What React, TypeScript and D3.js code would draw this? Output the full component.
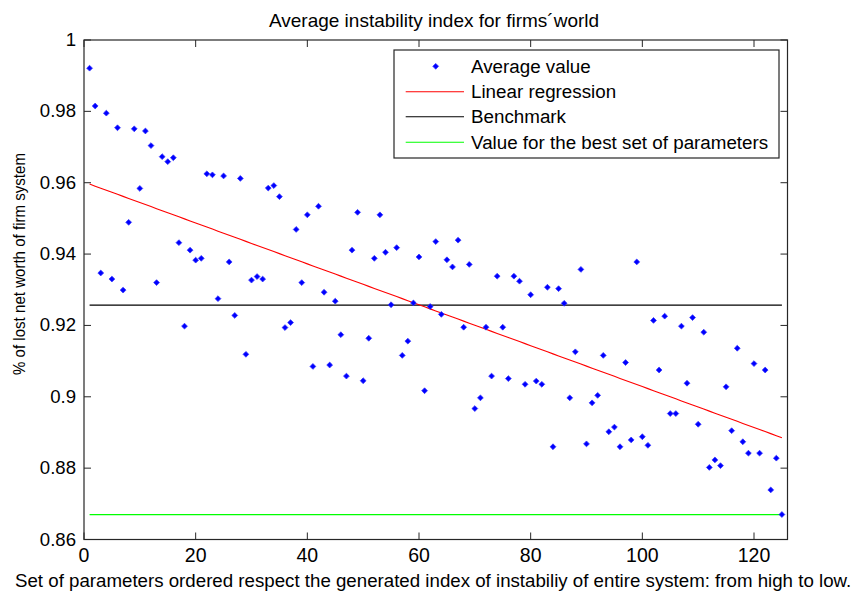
import React from 'react';
import * as d3 from 'd3';

// Average instability index per parameter set (ordered from high to low index)
const avgValues: number[] = [
  0.9921, 0.9815, 0.9347, 0.9795, 0.933, 0.9754, 0.9299, 0.9489, 0.9751, 0.9584,
  0.9745, 0.9704, 0.932, 0.9673, 0.9659, 0.967, 0.9432, 0.9198, 0.9411, 0.9383,
  0.9388, 0.9625, 0.9622, 0.9275, 0.9619, 0.9378, 0.9228, 0.9612, 0.9119, 0.9327,
  0.9337, 0.933, 0.9585, 0.9592, 0.9561, 0.9194, 0.9208, 0.9469, 0.932, 0.951,
  0.9085, 0.9534, 0.9293, 0.9089, 0.9268, 0.9174, 0.9058, 0.9411, 0.9517, 0.9045,
  0.9164, 0.9388, 0.951, 0.9405, 0.9258, 0.9418, 0.9116, 0.9156, 0.9263, 0.9392,
  0.9017, 0.9253, 0.9435, 0.9231, 0.9384, 0.9364, 0.9439, 0.9195, 0.9371, 0.8967,
  0.8997, 0.9195, 0.9058, 0.9338, 0.9195, 0.9051, 0.9338, 0.9324, 0.9035, 0.9286,
  0.9044, 0.9035, 0.9307, 0.886, 0.9303, 0.9262, 0.8997, 0.9126, 0.9357, 0.8868,
  0.8983, 0.9004, 0.9116, 0.8902, 0.8915, 0.886, 0.9096, 0.8879, 0.9378, 0.8888,
  0.8864, 0.9214, 0.9075, 0.9226, 0.8953, 0.8953, 0.9198, 0.9038, 0.9222, 0.8923,
  0.9181, 0.8802, 0.8823, 0.8807, 0.9028, 0.8905, 0.9136, 0.8874, 0.8842, 0.9093,
  0.8842, 0.9075, 0.8739, 0.8828, 0.867,
];
const benchmarkValue = 0.9257;
const bestSetValue = 0.867;

const xTicks = [0, 20, 40, 60, 80, 100, 120];
const yTicks = [0.86, 0.88, 0.9, 0.92, 0.94, 0.96, 0.98, 1];
const yTickLabels = ['0.86', '0.88', '0.9', '0.92', '0.94', '0.96', '0.98', '1'];
const legendLabels = [
  'Average value',
  'Linear regression',
  'Benchmark',
  'Value for the best set of parameters',
];

const titleText = 'Average instability index for firms\u00B4world';
const xLabelText =
  'Set of parameters ordered respect the generated index of instabiliy of entire system: from high to low.';
const yLabelText = '% of lost net worth of firm system';

const FONT = 'Arial, "Liberation Sans", Helvetica, sans-serif';

export default function App() {
  const W = 854;
  const H = 594;
  const left = 84;
  const right = 787.5;
  const top = 40;
  const bottom = 539.5;

  const x = d3.scaleLinear().domain([0, 126]).range([left, right]);
  const y = d3.scaleLinear().domain([0.86, 1]).range([bottom, top]);

  const points = avgValues.map((v, i) => ({ i: i + 1, v }));
  const idx = points.map((p) => p.i);

  // least-squares fit of the averages against their rank
  const mx = d3.mean(points, (p) => p.i) as number;
  const my = d3.mean(points, (p) => p.v) as number;
  const sxy = d3.sum(points, (p) => (p.i - mx) * (p.v - my));
  const sxx = d3.sum(points, (p) => (p.i - mx) * (p.i - mx));
  const slope = sxy / sxx;
  const intercept = my - slope * mx;

  const line = d3
    .line<{ i: number; v: number }>()
    .x((d) => x(d.i))
    .y((d) => y(d.v));

  const fitPath = line(idx.map((i) => ({ i, v: intercept + slope * i }))) || '';
  const benchPath = line(idx.map((i) => ({ i, v: benchmarkValue }))) || '';
  const bestPath = line(idx.map((i) => ({ i, v: bestSetValue }))) || '';

  // small square marker turned on its corner
  const marker = d3.symbol().type(d3.symbolSquare).size(17)() || '';

  const tickLen = 7;
  const axisColor = '#262626';

  const legend = { x0: 394, x1: 779, y0: 50, y1: 158 };
  const rows = [66.3, 91.7, 116.7, 142.3];
  const legendColors = ['#0000ff', '#ff0000', '#000000', '#00ff00'];

  return (
    <svg
      width={W}
      height={H}
      style={{ position: 'absolute', left: 0, top: 0, background: '#fff' }}
      fontFamily={FONT}
    >
      <rect x={0} y={0} width={W} height={H} fill="#fff" />
      <text x={434} y={26.5} fontSize={19} textAnchor="middle" fill="#000">
        {titleText}
      </text>

      {/* reference lines */}
      <path d={benchPath} stroke="#000" strokeWidth={1.1} fill="none" />
      <path d={bestPath} stroke="#00ff00" strokeWidth={1.2} fill="none" />
      <path d={fitPath} stroke="#ff0000" strokeWidth={1.1} fill="none" />

      {/* data points */}
      {points.map((p) => (
        <path
          key={p.i}
          d={marker}
          transform={`translate(${x(p.i)},${y(p.v)}) rotate(45)`}
          fill="#0000ff"
          stroke="#3535ff"
          strokeWidth={0.7}
        />
      ))}

      {/* axes box and ticks */}
      <rect
        x={left}
        y={top}
        width={right - left}
        height={bottom - top}
        fill="none"
        stroke={axisColor}
        strokeWidth={1.2}
      />
      {xTicks.map((t) => (
        <g key={'xt' + t}>
          <line x1={x(t)} x2={x(t)} y1={bottom} y2={bottom - tickLen} stroke={axisColor} />
          <line x1={x(t)} x2={x(t)} y1={top} y2={top + tickLen} stroke={axisColor} />
          <text x={x(t)} y={562.3} fontSize={19.5} textAnchor="middle" fill="#000">
            {t}
          </text>
        </g>
      ))}
      {yTicks.map((t, k) => (
        <g key={'yt' + t}>
          <line x1={left} x2={left + tickLen} y1={y(t)} y2={y(t)} stroke={axisColor} />
          <line x1={right} x2={right - tickLen} y1={y(t)} y2={y(t)} stroke={axisColor} />
          <text x={76} y={y(t) + 6} fontSize={18.6} textAnchor="end" fill="#000">
            {yTickLabels[k]}
          </text>
        </g>
      ))}

      <text x={15} y={586.7} fontSize={18.7} fill="#000">
        {xLabelText}
      </text>
      <text
        transform="translate(24.5,264) rotate(-90)"
        fontSize={16.5}
        textAnchor="middle"
        textLength={222}
        lengthAdjust="spacingAndGlyphs"
        fill="#000"
      >
        {yLabelText}
      </text>

      {/* legend */}
      <rect
        x={legend.x0}
        y={legend.y0}
        width={legend.x1 - legend.x0}
        height={legend.y1 - legend.y0}
        fill="#fff"
        stroke={axisColor}
        strokeWidth={1.2}
      />
      {legendLabels.map((lab, k) => (
        <g key={lab}>
          {k === 0 ? (
            <path
              d={marker}
              transform={`translate(435.7,${rows[k]}) rotate(45)`}
              fill="#0000ff"
              stroke="#3535ff"
              strokeWidth={0.7}
            />
          ) : (
            <line
              x1={405.7}
              x2={464}
              y1={rows[k]}
              y2={rows[k]}
              stroke={legendColors[k]}
              strokeWidth={1.1}
            />
          )}
          <text x={471} y={rows[k] + 6.2} fontSize={18.8} fill="#000">
            {lab}
          </text>
        </g>
      ))}
    </svg>
  );
}
